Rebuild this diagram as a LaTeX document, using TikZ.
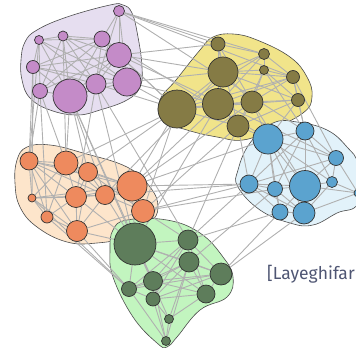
\documentclass[tikz,border=0pt]{standalone}
\usepackage{fontspec}
\newfontfamily\capfont{Fira Sans}
\definecolor{pfill}{HTML}{E6DEF0}
\definecolor{pnode}{HTML}{C48BC8}
\definecolor{yfill}{HTML}{F1E48A}
\definecolor{ynode}{HTML}{857B45}
\definecolor{bfill}{HTML}{E2F2FA}
\definecolor{bnode}{HTML}{5BA3CF}
\definecolor{ofill}{HTML}{FDE5CB}
\definecolor{onode}{HTML}{EE8A5E}
\definecolor{gfill}{HTML}{C2F5BF}
\definecolor{gnode}{HTML}{5E7D5B}
\definecolor{edgegray}{HTML}{B0B0B0}
\definecolor{captext}{HTML}{4F5673}
\pgfdeclarelayer{blobs}
\pgfdeclarelayer{links}
\pgfsetlayers{blobs,links,main}
\begin{document}
\begin{tikzpicture}[x=1pt, y=-1pt,
		blob/.style={draw=black!70, line width=0.6pt},
		vert/.style={circle, draw=black!80, line width=0.7pt, inner sep=0pt},
		link/.style={draw=edgegray, line width=0.9pt}]
		\useasboundingbox (0,0) rectangle (356,354);
		% области кластеров
		\begin{pgfonlayer}{blobs}
		\draw[blob, fill=pfill] plot[smooth cycle, tension=0.7] coordinates {
			(25,42) (37,30) (67,17) (110,5) (123,5) (132,13) (138,37) (142,67)
			(140,87) (127,100) (100,110) (77,115) (50,110) (30,98) (22,80) (21,60)};
		\draw[blob, fill=yfill] plot[smooth cycle, tension=0.7] coordinates {
			(200,50) (213,37) (233,34) (257,40) (290,57) (307,77) (312,97)
			(303,113) (270,130) (243,140) (217,137) (187,130) (162,120) (160,100) (176,80)};
		\draw[blob, fill=bfill] plot[smooth cycle, tension=0.7] coordinates {
			(250,143) (273,123) (297,122) (327,130) (347,147) (358,165) (358,203)
			(337,213) (313,225) (290,223) (260,210) (238,187) (238,170)};
		\draw[blob, fill=ofill] plot[smooth cycle, tension=0.7] coordinates {
			(17,160) (27,147) (50,145) (83,153) (127,167) (150,187) (158,207)
			(150,223) (127,237) (97,243) (67,242) (37,227) (20,207) (15,183)};
		\draw[blob, fill=gfill] plot[smooth cycle, tension=0.7] coordinates {
			(113,230) (127,220) (167,220) (200,233) (223,257) (233,277) (227,297)
			(200,310) (177,337) (167,347) (157,343) (133,317) (113,277) (110,250)};
		\end{pgfonlayer}
		% вершины
		\foreach \n/\x/\y/\r in {1/119/11/5.5, 2/39/40/4.5, 3/63/36/5, 4/102/39/8,
			5/119/55/12.5, 6/33/67/6.5, 7/40/91/7.5, 8/70/96/17, 9/96/84/10, 10/127/82/14}{
			\node[vert, fill=pnode, minimum size=2*\r] (p\n) at (\x,\y) {};
		}
		\foreach \n/\x/\y/\r in {1/218/44/7, 2/264/54/5.5, 3/264/70/4.5, 4/223/72/15,
			5/293/77/6.5, 6/298/100/6.5, 7/177/109/19, 8/218/104/15.5, 9/252/102/11, 10/238/126/11}{
			\node[vert, fill=ynode, minimum size=2*\r] (y\n) at (\x,\y) {};
		}
		\foreach \n/\x/\y/\r in {1/268/139/15, 2/305/131/9, 3/336/158/7.5, 4/249/184/9,
			5/275/189/7.5, 6/305/186/15.5, 7/332/182/5.5, 8/280/212/8, 9/304/213/11, 10/358/193/4}{
			\node[vert, fill=bnode, minimum size=2*\r] (b\n) at (\x,\y) {};
		}
		\foreach \n/\x/\y/\r in {1/29/161/9, 2/66/163/12, 3/88/172/9.5, 4/32/198/4,
			5/76/197/10.5, 6/105/195/9.5, 7/132/186/15, 8/143/211/11.5, 9/47/217/6, 10/77/231/10.5}{
			\node[vert, fill=onode, minimum size=2*\r] (o\n) at (\x,\y) {};
		}
		\foreach \n/\x/\y/\r in {1/135/244/21, 2/188/240/10, 3/189/262/10, 4/221/274/11,
			5/153/281/9.5, 6/129/289/7.5, 7/153/299/7, 8/206/294/9, 9/169/319/4.5, 10/166/341/4.5}{
			\node[vert, fill=gnode, minimum size=2*\r] (g\n) at (\x,\y) {};
		}
		\begin{pgfonlayer}{links}
		% рёбра внутри кластеров
		\foreach \a/\b in {1/4,1/5,1/10,1/9,2/3,2/4,2/6,2/7,2/8,2/9,3/4,3/5,3/8,3/10,3/7,
			4/5,4/6,4/8,4/9,5/6,5/7,5/8,5/9,5/10,6/8,6/9,6/10,7/8,7/4,8/9,9/10,8/10,2/10,3/9}{
			\draw[link] (p\a) -- (p\b);
		}
		\foreach \a/\b in {1/4,1/2,1/9,1/8,2/4,2/3,2/5,2/8,2/7,3/4,3/9,3/10,3/5,3/6,4/5,4/7,
			4/8,4/9,4/6,5/6,5/9,5/8,5/7,6/9,6/10,7/8,7/9,7/10,8/9,8/10,9/10,7/6,1/10}{
			\draw[link] (y\a) -- (y\b);
		}
		\foreach \a/\b in {1/2,1/3,1/4,1/5,1/6,1/7,1/9,2/3,2/6,2/5,2/7,2/4,3/6,3/7,3/10,4/5,
			4/6,4/8,4/9,5/6,5/8,5/9,6/7,6/8,6/9,6/10,7/10,7/9,8/9,9/10,1/8,3/4}{
			\draw[link] (b\a) -- (b\b);
		}
		\foreach \a/\b in {1/2,1/3,1/4,1/5,1/6,1/9,1/10,2/3,2/5,2/6,2/7,2/9,2/4,3/5,3/6,3/7,
			3/8,3/10,4/5,4/6,4/9,4/10,5/6,5/7,5/9,5/10,6/7,6/8,6/10,7/8,8/10,9/10,4/7,1/7}{
			\draw[link] (o\a) -- (o\b);
		}
		\foreach \a/\b in {1/2,1/3,1/4,1/5,1/6,1/8,1/9,2/3,2/4,2/5,2/7,2/6,3/4,3/5,3/6,3/7,
			3/8,3/9,4/5,4/7,4/8,4/6,5/6,5/7,5/8,5/10,6/7,6/10,7/8,7/9,7/10,8/9,9/10,2/8,3/10}{
			\draw[link] (g\a) -- (g\b);
		}
		% рёбра между кластерами
		\foreach \a/\b in {p1/y1, p1/y2, p1/y5, p4/y7, p5/y4, p5/y1, p10/y7, p10/y8, p10/y4,
			p9/y7, p5/y7, p1/b2, p4/b1, p5/b3,
			p6/o1, p7/o1, p7/o2, p8/o2, p8/o3, p2/o1, p9/o5, p8/o6, p3/o2, p6/o4, p7/o9,
			p8/g1, p9/g1, p9/g2, p8/g5,
			y7/o7, y7/o3, y8/o7, y7/o2, y4/o6, y10/o8, y7/o8, y9/o7,
			y6/b2, y6/b1, y10/b1, y9/b1, y5/b3, y5/b2, y10/b4, y9/b6, y3/b2,
			y10/g2, y8/g1,
			b4/o7, b4/o8, b1/o7, b5/o8, b4/o6,
			b8/g4, b9/g4, b4/g2, b5/g3, b8/g2,
			o8/g1, o10/g1, o7/g1, o8/g2, o10/g6, o9/g6, o5/g1, o6/g1, o4/g6}{
			\draw[link] (\a) -- (\b);
		}
		\end{pgfonlayer}
		\node[anchor=west, text=captext, font=\capfont\fontsize{17.5}{20}\selectfont, inner sep=0pt]
			(cite) at (267,274) {[Layeghifar};
\end{tikzpicture}
\end{document}
